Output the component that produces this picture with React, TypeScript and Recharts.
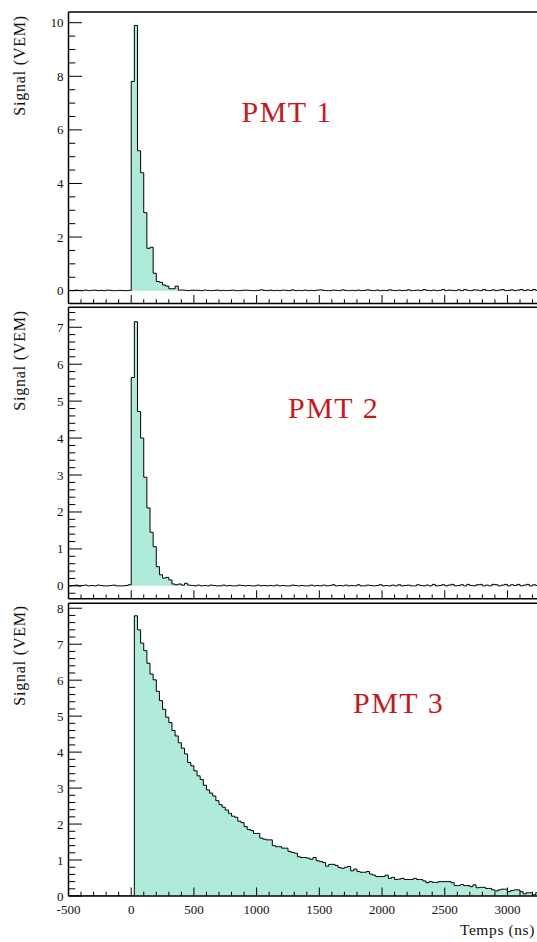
import React from 'react';
import { ComposedChart, Area, XAxis, YAxis, ReferenceLine } from 'recharts';

// ---- data (bin width 25 ns, bins from -500 ns to 3225 ns) ----
const BIN_WIDTH = 25;
const X_START = -500;
const X_END = 3250;

const pmt1Values = [
  // -500 .. -25
  0.01, 0.0, 0.02, 0.01, 0.0, 0.02, 0.0, 0.01, 0.02, 0.0, 0.01, 0.0, 0.02, 0.01, 0.0, 0.0, 0.01, 0.0, 0.0, 0.01,
  // 0 .. 375
  7.81, 9.9, 5.22, 4.4, 2.91, 1.58, 1.62, 0.65, 0.34, 0.31, 0.21, 0.17, 0.07, 0.07, 0.17, 0.02,
  // 400 .. 3225
  0.02, 0.01, 0.0, 0.02, 0.01, 0.01, 0.0, 0.02, 0.01, 0.0,
  0.01, 0.02, 0.0, 0.01, 0.0, 0.01, 0.02, 0.0, 0.0, 0.01,
  0.02, 0.01, 0.0, 0.0, 0.01, 0.03, 0.01, 0.0, 0.02, 0.0,
  0.01, 0.0, 0.02, 0.01, 0.0, 0.03, 0.0, 0.01, 0.0, 0.02,
  0.0, 0.01, 0.0, 0.02, 0.03, 0.01, 0.0, 0.0, 0.02, 0.01,
  0.0, 0.03, 0.01, 0.0, 0.01, 0.0, 0.02, 0.0, 0.01, 0.03,
  0.01, 0.0, 0.02, 0.0, 0.01, 0.0, 0.03, 0.01, 0.0, 0.02,
  0.0, 0.01, 0.03, 0.0, 0.01, 0.02, 0.0, 0.04, 0.01, 0.0,
  0.02, 0.0, 0.01, 0.04, 0.0, 0.02, 0.01, 0.0, 0.03, 0.0,
  0.04, 0.01, 0.0, 0.03, 0.02, 0.0, 0.04, 0.01, 0.0, 0.03,
  0.0, 0.02, 0.04, 0.0, 0.01, 0.03, 0.0, 0.02, 0.04, 0.0,
  0.03, 0.0, 0.04, 0.01,
];

const pmt2Values = [
  // -500 .. -25
  0.0, 0.01, 0.02, 0.0, 0.01, 0.02, 0.0, 0.01, 0.0, 0.02, 0.01, 0.0, 0.0, 0.01, 0.02, 0.0, 0.0, 0.0, 0.01, 0.03,
  // 0 .. 450
  5.64, 7.15, 4.72, 4.0, 2.94, 2.11, 1.45, 1.06, 0.52, 0.3, 0.21, 0.23, 0.16, 0.05, 0.03, 0.05, 0.02, 0.07, 0.02,
  // 475 .. 3225
  0.01, 0.0, 0.02, 0.0, 0.01, 0.0, 0.02, 0.01, 0.0, 0.0,
  0.02, 0.0, 0.01, 0.0, 0.0, 0.02, 0.01, 0.0, 0.01, 0.0,
  0.0, 0.02, 0.0, 0.01, 0.0, 0.01, 0.0, 0.02, 0.0, 0.01,
  0.0, 0.0, 0.02, 0.01, 0.0, 0.01, 0.0, 0.0, 0.02, 0.0,
  0.01, 0.0, 0.02, 0.0, 0.01, 0.03, 0.0, 0.01, 0.0, 0.02,
  0.0, 0.01, 0.0, 0.03, 0.0, 0.0, 0.02, 0.01, 0.0, 0.01,
  0.03, 0.0, 0.01, 0.0, 0.02, 0.0, 0.03, 0.0, 0.01, 0.02,
  0.0, 0.0, 0.03, 0.01, 0.0, 0.02, 0.0, 0.04, 0.0, 0.01,
  0.03, 0.0, 0.02, 0.04, 0.0, 0.01, 0.03, 0.0, 0.04, 0.01,
  0.0, 0.03, 0.04, 0.0, 0.02, 0.0, 0.04, 0.03, 0.0, 0.02,
  0.04, 0.0, 0.03, 0.01, 0.04, 0.0, 0.02, 0.04, 0.0, 0.03,
  0.01,
];

const pmt3Values = [
  // -500 .. 0
  0, 0, 0, 0, 0, 0, 0, 0, 0, 0, 0, 0, 0, 0, 0, 0, 0, 0, 0, 0, 0,
  // 25 .. 1025
  7.79, 7.4, 7.03, 6.82, 6.47, 6.17, 6.01, 5.69, 5.43, 5.19,
  4.97, 4.82, 4.6, 4.45, 4.26, 4.11, 3.95, 3.71, 3.62, 3.48,
  3.34, 3.24, 3.08, 2.95, 2.86, 2.78, 2.65, 2.54, 2.47, 2.39,
  2.3, 2.22, 2.19, 2.08, 2.04, 1.93, 1.85, 1.82, 1.74, 1.74,
  1.61,
  // 1050 .. 2100
  1.58, 1.56, 1.56, 1.4, 1.37, 1.37, 1.33, 1.33, 1.24, 1.21,
  1.19, 1.09, 1.07, 1.07, 1.05, 1.02, 1.07, 0.98, 0.96, 0.93,
  0.83, 0.88, 0.88, 0.85, 0.79, 0.77, 0.8, 0.82, 0.7, 0.75,
  0.68, 0.66, 0.66, 0.68, 0.61, 0.58, 0.54, 0.54, 0.54, 0.58,
  0.49, 0.52, 0.46,
  // 2125 .. 3225
  0.47, 0.49, 0.46, 0.46, 0.46, 0.49, 0.46, 0.46, 0.42, 0.37,
  0.4, 0.38, 0.38, 0.4, 0.4, 0.4, 0.4, 0.37, 0.29, 0.29,
  0.32, 0.29, 0.29, 0.26, 0.31, 0.23, 0.24, 0.24, 0.21, 0.21,
  0.17, 0.14, 0.17, 0.19, 0.19, 0.12, 0.15, 0.17, 0.17, 0.12,
  0.06, 0.09, 0.09, 0.03, 0.09,
];

const xMajorTicks = [-500, 0, 500, 1000, 1500, 2000, 2500, 3000];
const X_MINOR_STEP = 100;

const pmt1YMajor = [0, 2, 4, 6, 8, 10];
const pmt2YMajor = [0, 1, 2, 3, 4, 5, 6, 7];
const pmt3YMajor = [0, 1, 2, 3, 4, 5, 6, 7, 8];

const panelLabels = ['PMT 1', 'PMT 2', 'PMT 3'];
const yTitle = 'Signal (VEM)';
const xTitle = 'Temps (ns)';

// ---- helpers ----
const FONT = "'Liberation Serif', 'Times New Roman', serif";
const FILL = '#b0eada';
const RED = '#c41a1e';

function toHistData(values: number[]) {
  const rows = values.map((v, i) => ({ t: X_START + i * BIN_WIDTH, v }));
  rows.push({ t: X_END, v: values[values.length - 1] });
  return rows;
}

function minorTicks(lo: number, hi: number, step: number) {
  const out: number[] = [];
  const n = Math.floor((hi - lo) / step + 1e-9);
  for (let k = 0; k <= n; k++) out.push(Math.round((lo + k * step) * 1000) / 1000);
  return out;
}

const xTicks = minorTicks(-500, 3200, X_MINOR_STEP);

const XTick = (props: any) => {
  const { x, y, payload, showLabel } = props;
  const v = payload.value;
  const major = xMajorTicks.includes(v);
  const len = major ? 8.5 : 4.3;
  return (
    <g>
      <line x1={x} x2={x} y1={y} y2={y - len} stroke="#000" strokeWidth={1} />
      {showLabel && major ? (
        <text x={x} y={y + 18.3} textAnchor="middle" fontFamily={FONT} fontSize={13} fill="#111">
          {v}
        </text>
      ) : null}
    </g>
  );
};

const YTick = (props: any) => {
  const { x, y, payload, majors } = props;
  const v = payload.value;
  const major = majors.some((m: number) => Math.abs(m - v) < 1e-6);
  const len = major ? 13.5 : 6.8;
  return (
    <g>
      <line x1={x} x2={x + len} y1={y} y2={y} stroke="#000" strokeWidth={1} />
      {major ? (
        <text x={x - 5} y={y + 4.5} textAnchor="end" fontFamily={FONT} fontSize={13} fill="#111">
          {v}
        </text>
      ) : null}
    </g>
  );
};

type PanelProps = {
  values: number[];
  top: number;
  marginTop: number;
  plotHeight: number;
  marginBottom: number;
  yDomain: [number, number];
  yMajors: number[];
  yMinorStep: number;
  yMinorLo: number;
  showXLabels: boolean;
};

const PLOT_LEFT = 68.5;
const PLOT_WIDTH = 470.3;
const CHART_WIDTH = 541;
const Y_AXIS_W = 1;
const X_AXIS_H = 1;

function Panel(p: PanelProps) {
  const data = toHistData(p.values);
  const yTicks = minorTicks(p.yMinorLo, p.yDomain[1], p.yMinorStep);
  const height = p.marginTop + p.plotHeight + p.marginBottom;
  return (
    <div style={{ position: 'absolute', left: 0, top: p.top, width: CHART_WIDTH, height }}>
      <ComposedChart
        width={CHART_WIDTH}
        height={height}
        data={data}
        margin={{
          top: p.marginTop,
          right: CHART_WIDTH - PLOT_LEFT - PLOT_WIDTH,
          bottom: p.marginBottom - X_AXIS_H,
          left: PLOT_LEFT - Y_AXIS_W,
        }}
      >
        <XAxis
          type="number"
          dataKey="t"
          domain={[X_START, X_END]}
          allowDataOverflow
          ticks={xTicks}
          interval={0}
          height={X_AXIS_H}
          tickSize={0}
          tickMargin={0}
          tickLine={false}
          axisLine={{ stroke: '#000', strokeWidth: 1.5 }}
          tick={(tp: any) => <XTick {...tp} showLabel={p.showXLabels} />}
        />
        <YAxis
          type="number"
          domain={p.yDomain}
          allowDataOverflow
          ticks={yTicks}
          interval={0}
          width={Y_AXIS_W}
          tickSize={0}
          tickMargin={0}
          tickLine={false}
          axisLine={{ stroke: '#000', strokeWidth: 1.5 }}
          tick={(tp: any) => <YTick {...tp} majors={p.yMajors} />}
        />
        <Area
          type="stepAfter"
          dataKey="v"
          baseValue={0}
          stroke="#000"
          strokeWidth={1}
          fill={FILL}
          fillOpacity={1}
          dot={false}
          activeDot={false}
          isAnimationActive={false}
        />
        <ReferenceLine y={p.yDomain[1]} stroke="#000" strokeWidth={1.5} />
      </ComposedChart>
    </div>
  );
}

export default function App() {
  return (
    <div
      style={{
        position: 'absolute',
        left: 0,
        top: 0,
        width: 537,
        height: 942,
        overflow: 'hidden',
        background: '#fff',
      }}
    >
      <Panel
        values={pmt1Values}
        top={0}
        marginTop={12}
        plotHeight={291.5}
        marginBottom={3}
        yDomain={[-0.48, 10.4]}
        yMajors={pmt1YMajor}
        yMinorStep={0.5}
        yMinorLo={0}
        showXLabels={false}
      />
      <Panel
        values={pmt2Values}
        top={304}
        marginTop={3.3}
        plotHeight={291.5}
        marginBottom={3}
        yDomain={[-0.35, 7.54]}
        yMajors={pmt2YMajor}
        yMinorStep={0.2}
        yMinorLo={-0.2}
        showXLabels={false}
      />
      <Panel
        values={pmt3Values}
        top={600}
        marginTop={3.2}
        plotHeight={292.8}
        marginBottom={46}
        yDomain={[0, 8.14]}
        yMajors={pmt3YMajor}
        yMinorStep={0.2}
        yMinorLo={0}
        showXLabels={true}
      />
      <svg
        width={537}
        height={942}
        style={{ position: 'absolute', left: 0, top: 0, pointerEvents: 'none' }}
      >
        {[15, 310, 605].map((yy, i) => (
          <text
            key={'yt' + i}
            transform={`translate(25,${yy}) rotate(-90)`}
            textAnchor="end"
            fontFamily={FONT}
            fontSize={16}
            letterSpacing={0.8}
            fill="#111"
          >
            {yTitle}
          </text>
        ))}
        <text x={241.5} y={121.5} fontFamily={FONT} fontSize={30} letterSpacing={1.5} fill={RED}>
          {panelLabels[0]}
        </text>
        <text x={288} y={418} fontFamily={FONT} fontSize={30} letterSpacing={1.5} fill={RED}>
          {panelLabels[1]}
        </text>
        <text x={353} y={713} fontFamily={FONT} fontSize={30} letterSpacing={1.5} fill={RED}>
          {panelLabels[2]}
        </text>
        <text x={535} y={935} textAnchor="end" fontFamily={FONT} fontSize={15.5} letterSpacing={0.6} fill="#111">
          {xTitle}
        </text>
      </svg>
    </div>
  );
}
